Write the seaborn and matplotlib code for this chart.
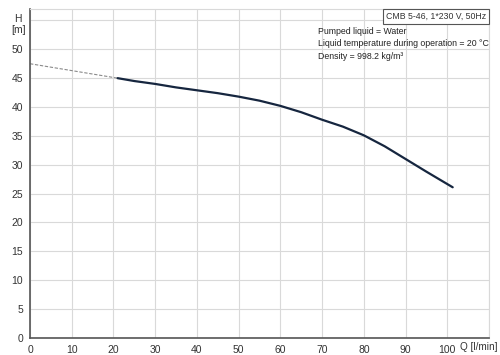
import matplotlib
matplotlib.use("Agg")
import matplotlib.pyplot as plt
import seaborn as sns
import pandas as pd

# pump curve
flow = [21, 25, 30, 35, 40, 45, 50, 55, 60, 65, 70, 75, 80, 85, 90, 95, 101.3]
head = [45.0, 44.5, 44.0, 43.4, 42.9, 42.4, 41.8, 41.1, 40.2, 39.1, 37.8,
        36.6, 35.1, 33.2, 31.0, 28.8, 26.1]
# extrapolated part towards zero flow
flow_ext = [0, 21]
head_ext = [47.5, 45.0]

x_ticks = list(range(0, 111, 10))
y_ticks = list(range(0, 56, 5))

title_box = "CMB 5-46, 1*230 V, 50Hz"
info_lines = ["Pumped liquid = Water",
              "Liquid temperature during operation = 20 °C",
              "Density = 998.2 kg/m³"]

sns.set_style("white")
plt.rcParams["font.family"] = ["Liberation Sans", "DejaVu Sans"]

curve = pd.DataFrame({"Q": flow, "H": head})
ext = pd.DataFrame({"Q": flow_ext, "H": head_ext})

fig = plt.figure(figsize=(5, 3.55), dpi=100)
ax = fig.add_axes([0.06, 0.048, 0.918, 0.927])

sns.lineplot(data=ext, x="Q", y="H", ax=ax, color="#8a8a8a", lw=0.8,
             linestyle=(0, (3, 1.5)))
sns.lineplot(data=curve, x="Q", y="H", ax=ax, color="#16263f", lw=1.6)

ax.set_xlim(0, 110)
ax.set_ylim(0, 57)
ax.set_xticks(x_ticks)
ax.set_yticks(y_ticks)
ax.set_xticklabels([str(t) for t in x_ticks[:-1]] + [""])
ax.set_yticklabels([str(t) for t in y_ticks[:-1]] + [""])
ax.tick_params(labelsize=7.5, colors="#333333", length=3, width=0.8, pad=2)
ax.grid(True, color="#d9d9d9", lw=0.8)
ax.set_xlabel("")
ax.set_ylabel("")

for side in ["left", "bottom"]:
    ax.spines[side].set_color("#555555")
    ax.spines[side].set_linewidth(1.2)
for side in ["top", "right"]:
    ax.spines[side].set_color("#d9d9d9")
    ax.spines[side].set_linewidth(0.8)

ax.text(-0.026, 0.985, "H\n[m]", transform=ax.transAxes, ha="center",
        va="top", fontsize=7.5, color="#333333", linespacing=1.15)
ax.text(0.937, -0.012, "Q [l/min]", transform=ax.transAxes, ha="left",
        va="top", fontsize=7.2, color="#333333")

ax.text(0.993, 0.99, title_box, transform=ax.transAxes, ha="right",
        va="top", fontsize=6.3, color="#333333",
        bbox=dict(boxstyle="square,pad=0.35", fc="white", ec="#555555", lw=0.8))
ax.text(0.627, 0.945, "\n".join(info_lines), transform=ax.transAxes,
        ha="left", va="top", fontsize=6.3, color="#222222", linespacing=1.5)

fig.savefig("out.png", dpi=100)
